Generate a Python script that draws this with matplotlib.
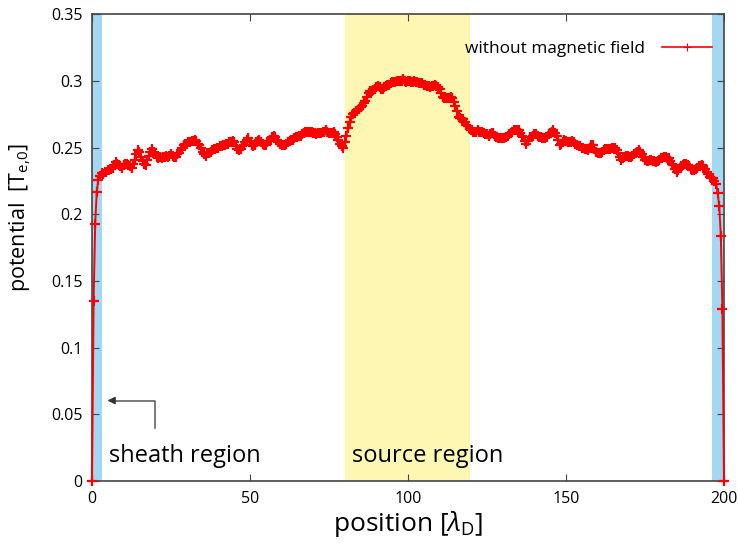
import numpy as np
import matplotlib
matplotlib.use("Agg")
import matplotlib.pyplot as plt

plt.rcParams['font.family'] = ['Open Sans', 'DejaVu Sans']
plt.rcParams['mathtext.fontset'] = 'custom'
plt.rcParams['mathtext.rm'] = 'Open Sans'
plt.rcParams['mathtext.it'] = 'Open Sans:italic'

# grid step of the simulation output [lambda_D]
dx = 0.5
position = np.arange(0, 200 + dx / 2, dx)

# electrostatic potential [T_e,0], one row per 5 lambda_D
potential = [
    0.000, 0.135, 0.193, 0.217, 0.226, 0.229, 0.231, 0.230, 0.232, 0.232,
    0.233, 0.233, 0.234, 0.235, 0.237, 0.239, 0.238, 0.237, 0.236, 0.235,
    0.237, 0.238, 0.238, 0.237, 0.236, 0.235, 0.238, 0.241, 0.245, 0.248,
    0.247, 0.243, 0.240, 0.238, 0.237, 0.241, 0.244, 0.247, 0.249, 0.247,
    0.245, 0.243, 0.242, 0.243, 0.242, 0.243, 0.243, 0.244, 0.243, 0.244,
    0.245, 0.244, 0.243, 0.243, 0.245, 0.246, 0.248, 0.250, 0.252, 0.253,
    0.253, 0.254, 0.254, 0.255, 0.255, 0.256, 0.255, 0.253, 0.252, 0.250,
    0.247, 0.245, 0.244, 0.246, 0.246, 0.247, 0.248, 0.249, 0.249, 0.250,
    0.250, 0.251, 0.251, 0.252, 0.252, 0.253, 0.253, 0.254, 0.254, 0.255,
    0.254, 0.251, 0.249, 0.248, 0.249, 0.251, 0.252, 0.254, 0.256, 0.257,
    0.254, 0.252, 0.251, 0.252, 0.254, 0.255, 0.256, 0.254, 0.253, 0.252,
    0.252, 0.254, 0.255, 0.256, 0.258, 0.259, 0.258, 0.256, 0.254, 0.253,
    0.252, 0.252, 0.252, 0.253, 0.254, 0.255, 0.256, 0.256, 0.257, 0.258,
    0.258, 0.259, 0.259, 0.260, 0.261, 0.262, 0.262, 0.262, 0.262, 0.262,
    0.261, 0.261, 0.260, 0.261, 0.261, 0.261, 0.262, 0.262, 0.263, 0.262,
    0.261, 0.261, 0.261, 0.262, 0.260, 0.258, 0.256, 0.253, 0.251, 0.250,
    0.254, 0.259, 0.265, 0.269, 0.273, 0.275, 0.276, 0.277, 0.277, 0.279,
    0.280, 0.281, 0.283, 0.285, 0.288, 0.291, 0.292, 0.292, 0.293, 0.294,
    0.295, 0.296, 0.295, 0.294, 0.294, 0.295, 0.296, 0.297, 0.297, 0.298,
    0.299, 0.299, 0.299, 0.300, 0.300, 0.300, 0.300, 0.301, 0.300, 0.299,
    0.300, 0.300, 0.299, 0.299, 0.300, 0.299, 0.299, 0.298, 0.298, 0.298,
    0.297, 0.297, 0.296, 0.296, 0.295, 0.296, 0.296, 0.297, 0.296, 0.295,
    0.294, 0.291, 0.288, 0.287, 0.287, 0.287, 0.287, 0.288, 0.287, 0.284,
    0.281, 0.277, 0.273, 0.272, 0.271, 0.271, 0.269, 0.267, 0.266, 0.264,
    0.263, 0.262, 0.262, 0.262, 0.263, 0.262, 0.262, 0.262, 0.261, 0.260,
    0.260, 0.259, 0.260, 0.261, 0.261, 0.259, 0.258, 0.257, 0.257, 0.257,
    0.257, 0.257, 0.258, 0.259, 0.260, 0.261, 0.262, 0.263, 0.263, 0.263,
    0.263, 0.261, 0.259, 0.258, 0.255, 0.253, 0.255, 0.258, 0.258, 0.259,
    0.260, 0.260, 0.259, 0.258, 0.258, 0.257, 0.257, 0.257, 0.258, 0.260,
    0.261, 0.262, 0.263, 0.261, 0.259, 0.256, 0.252, 0.253, 0.254, 0.256,
    0.255, 0.254, 0.254, 0.254, 0.255, 0.254, 0.253, 0.252, 0.251, 0.251,
    0.250, 0.250, 0.249, 0.249, 0.248, 0.250, 0.252, 0.252, 0.249, 0.247,
    0.246, 0.246, 0.246, 0.247, 0.248, 0.249, 0.249, 0.249, 0.249, 0.250,
    0.250, 0.250, 0.248, 0.246, 0.243, 0.241, 0.242, 0.243, 0.244, 0.244,
    0.243, 0.243, 0.244, 0.245, 0.246, 0.247, 0.248, 0.247, 0.245, 0.243,
    0.241, 0.240, 0.240, 0.241, 0.241, 0.240, 0.240, 0.239, 0.240, 0.241,
    0.242, 0.242, 0.243, 0.243, 0.242, 0.242, 0.240, 0.238, 0.237, 0.234,
    0.232, 0.233, 0.235, 0.236, 0.237, 0.238, 0.238, 0.237, 0.236, 0.234,
    0.233, 0.233, 0.234, 0.235, 0.236, 0.236, 0.237, 0.236, 0.234, 0.232,
    0.230, 0.228, 0.227, 0.227, 0.225, 0.223, 0.216, 0.206, 0.184, 0.129,
    0.000,
]

# shaded regions [lambda_D]
sheath_left = (0, 3.2)
sheath_right = (196.3, 200)
source = (80, 119.5)

x_ticks = [0, 50, 100, 150, 200]
y_ticks = [0, 0.05, 0.1, 0.15, 0.2, 0.25, 0.3, 0.35]
y_tick_labels = ['0', '0.05', '0.1', '0.15', '0.2', '0.25', '0.3', '0.35']

fig = plt.figure(figsize=(7.38, 5.43), dpi=100)
ax = fig.add_axes([0.1247, 0.1142, 0.981 - 0.1247, 0.974 - 0.1142])

blue = '#a3d7f2'
yellow = '#fef6b3'
ax.axvspan(*sheath_left, color=blue, lw=0, zorder=0)
ax.axvspan(*sheath_right, color=blue, lw=0, zorder=0)
ax.axvspan(*source, color=yellow, lw=0, zorder=0)

ax.plot(position, potential, color='#ff0000', lw=1.4, marker='+',
        markersize=7, markeredgewidth=1.6, zorder=3, clip_on=False,
        label='without magnetic field')

ax.set_xlim(0, 200)
ax.set_ylim(0, 0.35)
ax.set_xticks(x_ticks)
ax.set_yticks(y_ticks)
ax.set_yticklabels(y_tick_labels)
ax.tick_params(direction='in', top=True, right=True, length=5, width=0.8,
               color='#444444', labelsize=11.5, pad=7)
for s in ax.spines.values():
    s.set_color('#444444')
    s.set_linewidth(1.2)

ax.set_xlabel(r'position [$\lambda_{\mathregular{D}}$]', fontsize=19, labelpad=2)
ax.set_ylabel(r'potential  [T$_{\mathregular{e{,}0}}$]', fontsize=15.5)
ax.yaxis.set_label_coords(-0.093, 0.565)

leg = ax.legend(loc='upper right', frameon=False, markerfirst=False,
                fontsize=12.4, handlelength=2.9, handletextpad=1.0,
                borderaxespad=0.0, bbox_to_anchor=(0.992, 0.957))
for h in leg.get_lines():
    h.set_linewidth(1.2)
    h.set_markeredgewidth(0.8)
    h.set_markersize(6)

ax.text(5.5, 0.0145, 'sheath region', fontsize=17, va='baseline', ha='left')
ax.text(82.3, 0.0145, 'source region', fontsize=17, va='baseline', ha='left')

# pointer toward the left sheath
ax.plot([19.9, 19.9, 6.0], [0.0395, 0.0603, 0.0603], color='#555555', lw=1.1,
        zorder=2)
ax.annotate('', xy=(4.0, 0.0603), xytext=(7.0, 0.0603),
            arrowprops=dict(arrowstyle='-|>', color='#333333', lw=1.0,
                            mutation_scale=11))

fig.savefig('out.png', dpi=100)
